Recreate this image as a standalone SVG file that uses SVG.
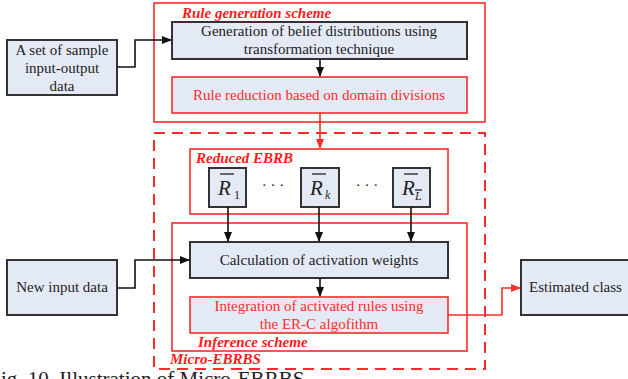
<svg xmlns="http://www.w3.org/2000/svg" width="628" height="379" viewBox="0 0 628 379">
<defs>
<style>
text{font-family:'Liberation Serif','DejaVu Serif','Times New Roman',serif}
.box{fill:#e4eaf5;stroke:#333;stroke-width:2}
.rbox{fill:#e4eaf5;stroke:#ff2a2a;stroke-width:1.6}
.frame{fill:none;stroke:#ff2a2a;stroke-width:1.6}
.dash{fill:none;stroke:#ff2a2a;stroke-width:2;stroke-dasharray:11 7}
.t{font-size:15px;fill:#222}
.rt{font-size:15px;fill:#ff2a2a}
.lbl{font-size:15px;font-weight:bold;font-style:italic;fill:#ff1a1a}
.R{font-size:21px;font-style:italic;fill:#222}
.sub{font-size:12px;fill:#222}
.ov{stroke:#222;stroke-width:1.3}
.c{fill:none;stroke:#111;stroke-width:1.6}
.cr{fill:none;stroke:#ff2a2a;stroke-width:1.6}
</style>
<marker id="ab" markerWidth="10" markerHeight="8" refX="9" refY="4" orient="auto" markerUnits="userSpaceOnUse">
<path d="M0,0 L10,4 L0,8 z" fill="#111"/>
</marker>
<marker id="ar" markerWidth="10" markerHeight="8" refX="9" refY="4" orient="auto" markerUnits="userSpaceOnUse">
<path d="M0,0 L10,4 L0,8 z" fill="#ff2a2a"/>
</marker>
</defs>
<rect width="628" height="379" fill="#fff"/>

<g id="rule-generation-scheme">
<rect class="frame" x="154" y="3" width="331" height="119"/>
<text class="lbl" x="182" y="18" font-family="Liberation Serif, DejaVu Serif, serif">Rule generation scheme</text>
</g>
<g id="micro-ebrbs">
<rect class="dash" x="154" y="133" width="331" height="236"/>
<text class="lbl" x="170" y="364" font-family="Liberation Serif, DejaVu Serif, serif">Micro-EBRBS</text>
</g>
<g id="reduced-ebrb">
<rect class="frame" x="190" y="149" width="258" height="65"/>
<text class="lbl" x="196" y="163" font-family="Liberation Serif, DejaVu Serif, serif">Reduced EBRB</text>
</g>
<g id="inference-scheme">
<rect class="frame" x="172" y="223" width="295" height="128"/>
<text class="lbl" x="198" y="347" font-family="Liberation Serif, DejaVu Serif, serif">Inference scheme</text>
</g>

<g id="sample-data" font-family="Liberation Serif, DejaVu Serif, serif">
<rect class="box" x="7" y="40" width="110" height="55"/>
<text class="t" x="62" y="55" text-anchor="middle">A set of sample</text>
<text class="t" x="62" y="73" text-anchor="middle">input-output</text>
<text class="t" x="62" y="91" text-anchor="middle">data</text>
</g>
<g id="generation" font-family="Liberation Serif, DejaVu Serif, serif">
<rect class="box" x="172" y="22" width="295" height="37"/>
<text class="t" x="319" y="36" text-anchor="middle">Generation of belief distributions using</text>
<text class="t" x="319" y="54" text-anchor="middle">transformation technique</text>
</g>
<g id="reduction" font-family="Liberation Serif, DejaVu Serif, serif">
<rect class="rbox" x="172" y="77" width="295" height="36"/>
<text class="rt" x="319" y="100" text-anchor="middle">Rule reduction based on domain divisions</text>
</g>
<g id="R1" font-family="Liberation Serif, DejaVu Serif, serif">
<rect class="box" x="209" y="168" width="37" height="39"/>
<text class="R" x="218" y="195">R</text>
<line class="ov" x1="220" y1="174" x2="234" y2="174"/>
<text class="sub" x="234" y="199">1</text>
</g>
<g id="dots1"><text class="t" x="273" y="190" text-anchor="middle">· · ·</text></g>
<g id="Rk" font-family="Liberation Serif, DejaVu Serif, serif">
<rect class="box" x="301" y="168" width="38" height="39"/>
<text class="R" x="310" y="195">R</text>
<line class="ov" x1="312" y1="174" x2="326" y2="174"/>
<text class="sub" x="325" y="199" font-style="italic">k</text>
</g>
<g id="dots2"><text class="t" x="367" y="190" text-anchor="middle">· · ·</text></g>
<g id="RL" font-family="Liberation Serif, DejaVu Serif, serif">
<rect class="box" x="393" y="168" width="37" height="39"/>
<text class="R" x="402" y="195">R</text>
<line class="ov" x1="404" y1="174" x2="418" y2="174"/>
<text class="sub" x="415" y="200" font-style="italic">L</text>
<line class="ov" x1="415" y1="190" x2="422" y2="190" stroke-width="1"/>
</g>
<g id="new-input" font-family="Liberation Serif, DejaVu Serif, serif">
<rect class="box" x="7" y="260" width="110" height="55"/>
<text class="t" x="62" y="292" text-anchor="middle">New input data</text>
</g>
<g id="calculation" font-family="Liberation Serif, DejaVu Serif, serif">
<rect class="box" x="190" y="242" width="258" height="36"/>
<text class="t" x="319" y="265" text-anchor="middle">Calculation of activation weights</text>
</g>
<g id="integration" font-family="Liberation Serif, DejaVu Serif, serif">
<rect class="rbox" x="190" y="297" width="258" height="36"/>
<text class="rt" x="319" y="311" text-anchor="middle">Integration of activated rules using</text>
<text class="rt" x="319" y="329" text-anchor="middle">the ER-C algofithm</text>
</g>
<g id="estimated-class" font-family="Liberation Serif, DejaVu Serif, serif">
<rect class="box" x="521" y="260" width="120" height="55"/>
<text class="t" x="529" y="292">Estimated class</text>
</g>

<g id="connectors">
<polyline class="c" points="117,67 135,67 135,40 171,40" marker-end="url(#ab)"/>
<line class="c" x1="320" y1="59" x2="320" y2="76" marker-end="url(#ab)"/>
<line class="cr" x1="320" y1="113" x2="320" y2="148" marker-end="url(#ar)"/>
<line class="c" x1="228" y1="207" x2="228" y2="241" marker-end="url(#ab)"/>
<line class="c" x1="319" y1="207" x2="319" y2="241" marker-end="url(#ab)"/>
<line class="c" x1="411" y1="207" x2="411" y2="241" marker-end="url(#ab)"/>
<polyline class="c" points="117,288 135,288 135,260 189,260" marker-end="url(#ab)"/>
<line class="c" x1="320" y1="278" x2="320" y2="296" marker-end="url(#ab)"/>
<polyline class="cr" points="448,315 502,315 502,288 520,288" marker-end="url(#ar)"/>
</g>

<text x="1" y="386" font-family="Liberation Serif, DejaVu Serif, serif" font-size="21" fill="#222">ig. 10. Illustration of Micro-EBRBS</text>
</svg>
